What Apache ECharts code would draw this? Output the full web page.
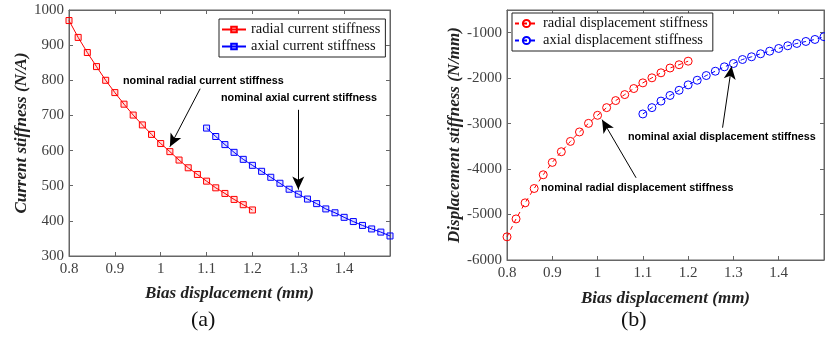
<!DOCTYPE html>
<html>
<head>
<meta charset="utf-8">
<script src="https://cdn.jsdelivr.net/npm/echarts@6/dist/echarts.min.js"></script>
<style>
html,body{margin:0;padding:0;background:#fff;}
#c{width:825px;height:338px;}
</style>
</head>
<body>
<div id="c"></div>
<script>
// ---- data ----
const xRadial = [0.80,0.82,0.84,0.86,0.88,0.90,0.92,0.94,0.96,0.98,1.00,1.02,1.04,1.06,1.08,1.10,1.12,1.14,1.16,1.18,1.20];
const xAxial  = [1.10,1.12,1.14,1.16,1.18,1.20,1.22,1.24,1.26,1.28,1.30,1.32,1.34,1.36,1.38,1.40,1.42,1.44,1.46,1.48,1.50];
const currentRadial = [970,922,879,839,800,765,732,701,673,646,620,597,573,551,532,513,494,478,461,446,431];
const currentAxial  = [664,640,617,595,575,558,541,524,507,490,476,462,449,434,423,410,398,387,377,368,357];
const dispRadial = [-5490,-5096,-4743,-4427,-4125,-3853,-3618,-3391,-3183,-2994,-2817,-2648,-2493,-2361,-2228,-2103,-1992,-1882,-1776,-1704,-1626];
const dispAxial  = [-2787,-2648,-2504,-2380,-2266,-2147,-2045,-1942,-1847,-1750,-1677,-1589,-1529,-1463,-1406,-1346,-1287,-1236,-1192,-1148,-1088];
const seriesNames = ['radial current stiffness','axial current stiffness','radial displacement stiffness','axial displacement stiffness'];
const xName = 'Bias displacement (mm)';
const yNameA = 'Current stiffness (N/A)';
const yNameB = 'Displacement stiffness (N/mm)';
// annotation arrows in data coordinates: [tailX, tailY, tipX, tipY]
const arrowRadialCur = [1.086, 776, 1.020, 611];
const arrowAxialCur  = [1.30, 716, 1.30, 489];
const arrowAxialDisp = [1.276, -3089, 1.296, -1737];
const arrowRadialDisp = [1.085, -4191, 1.010, -2912];

const RED = '#ff0000', BLUE = '#0000ff';
const AX = '#666666', TICK = '#404040';
const SERIF = '"Liberation Serif","Times New Roman",serif';
const SANS = '"Liberation Sans",Arial,sans-serif';

function zip(xs, ys){ return xs.map((x,i)=>[x, ys[i]]); }
function plain(v){ return String(Math.round(v*1000)/1000); }

function xAx(grid, pos, show){
  return {
    type:'value', gridIndex:grid, position:pos, min:0.8, max:1.5, interval:0.1,
    name: show ? xName : '', nameLocation:'middle', nameGap: grid===0 ? 29 : 30,
    nameTextStyle:{fontFamily:SERIF, fontSize:17, fontWeight:'bold', fontStyle:'italic', color:'#222'},
    axisLine:{show:true, onZero:false, lineStyle:{color:AX, width:1}},
    axisTick:{show:true, inside:true, length:4, lineStyle:{color:AX}},
    axisLabel:{show:show, showMaxLabel:false, margin:6, fontFamily:SERIF, fontSize:15, color:TICK, formatter:plain},
    splitLine:{show:false}
  };
}
function yAx(grid, pos, show, min, max, name, gap, showMax){
  return {
    type:'value', gridIndex:grid, position:pos, min:min, max:max, interval: grid===0 ? 100 : 1000,
    name: show ? name : '', nameLocation:'middle', nameGap:gap,
    nameTextStyle:{fontFamily:SERIF, fontSize:17, fontWeight:'bold', fontStyle:'italic', color:'#222'},
    axisLine:{show:true, onZero:false, lineStyle:{color:AX, width:1}},
    axisTick:{show:true, inside:true, length:4, lineStyle:{color:AX}},
    axisLabel:{show:show, showMaxLabel:showMax, margin:5, fontFamily:SERIF, fontSize:15, color:TICK, formatter:plain},
    splitLine:{show:false}
  };
}
function arrowLine(a){
  return {
    silent:true, animation:false, symbol:['none','arrow'], symbolSize:[9,13],
    label:{show:false}, lineStyle:{color:'#000', width:1, type:'solid'},
    emphasis:{disabled:true},
    data:[[{coord:[a[0],a[1]]},{coord:[a[2],a[3]]}]]
  };
}

const chart = echarts.init(document.getElementById('c'), null, {renderer:'canvas'});
chart.setOption({
  animation:false,
  backgroundColor:'#fff',
  grid:[
    {left:69, top:10, width:321, height:246, show:true, borderColor:AX, borderWidth:1, backgroundColor:'#fff'},
    {left:507, top:10, width:317, height:250, show:true, borderColor:AX, borderWidth:1, backgroundColor:'#fff'}
  ],
  xAxis:[ xAx(0,'bottom',true), xAx(0,'top',false), xAx(1,'bottom',true), xAx(1,'top',false) ],
  yAxis:[
    yAx(0,'left',true,300,1000,yNameA,37,true),
    yAx(0,'right',false,300,1000,'',0,true),
    yAx(1,'left',true,-6000,-500,yNameB,33,false),
    yAx(1,'right',false,-6000,-500,'',0,false)
  ],
  legend:[
    {
      data:[seriesNames[0], seriesNames[1]], orient:'vertical', left:219, top:19,
      padding:[2,5,2,2], itemGap:0, itemWidth:24, itemHeight:7,
      borderColor:'#222', borderWidth:1, backgroundColor:'#fff',
      textStyle:{fontFamily:SERIF, fontSize:14.5, color:'#111', lineHeight:17}
    },
    {
      data:[seriesNames[2], seriesNames[3]], orient:'vertical', left:512, top:13,
      padding:[2,5,2,2], itemGap:0, itemWidth:23, itemHeight:9,
      borderColor:'#222', borderWidth:1, backgroundColor:'#fff',
      textStyle:{fontFamily:SERIF, fontSize:14.5, color:'#111', lineHeight:17}
    }
  ],
  series:[
    {
      name:seriesNames[0], type:'line', xAxisIndex:0, yAxisIndex:0, data:zip(xRadial,currentRadial),
      symbol:'rect', symbolSize:6, lineStyle:{color:RED, width:1},
      itemStyle:{color:'rgba(255,0,0,0.12)', borderColor:RED, borderWidth:1}, emphasis:{disabled:true},
      markLine: arrowLine(arrowRadialCur)
    },
    {
      name:seriesNames[1], type:'line', xAxisIndex:0, yAxisIndex:0, data:zip(xAxial,currentAxial),
      symbol:'rect', symbolSize:6, lineStyle:{color:BLUE, width:1},
      itemStyle:{color:'rgba(0,0,255,0.12)', borderColor:BLUE, borderWidth:1}, emphasis:{disabled:true},
      markLine: arrowLine(arrowAxialCur)
    },
    {
      name:seriesNames[2], type:'line', xAxisIndex:2, yAxisIndex:2, data:zip(xRadial,dispRadial),
      symbol:'circle', symbolSize:8, lineStyle:{color:RED, width:1, type:[4,4]},
      itemStyle:{color:'rgba(255,0,0,0)', borderColor:RED, borderWidth:1}, emphasis:{disabled:true},
      markLine: arrowLine(arrowRadialDisp)
    },
    {
      name:seriesNames[3], type:'line', xAxisIndex:2, yAxisIndex:2, data:zip(xAxial,dispAxial),
      symbol:'circle', symbolSize:8, lineStyle:{color:BLUE, width:1, type:[4,4]},
      itemStyle:{color:'rgba(0,0,255,0)', borderColor:BLUE, borderWidth:1}, emphasis:{disabled:true},
      markLine: arrowLine(arrowAxialDisp)
    }
  ],
  graphic:[
    {type:'text', left:123, top:76, style:{text:'nominal radial current stiffness', font:'bold 10.8px '+SANS, fill:'#000'}},
    {type:'text', left:221, top:93, style:{text:'nominal axial current stiffness', font:'bold 10.8px '+SANS, fill:'#000'}},
    {type:'text', left:628, top:132, style:{text:'nominal axial displacement stiffness', font:'bold 10.8px '+SANS, fill:'#000'}},
    {type:'text', left:541, top:183, style:{text:'nominal radial displacement stiffness', font:'bold 10.8px '+SANS, fill:'#000'}},
    {type:'text', left:191, top:309, style:{text:'(a)', font:'22px '+SERIF, fill:'#111'}},
    {type:'text', left:621, top:309, style:{text:'(b)', font:'22px '+SERIF, fill:'#111'}}
  ]
});
</script>
</body>
</html>
